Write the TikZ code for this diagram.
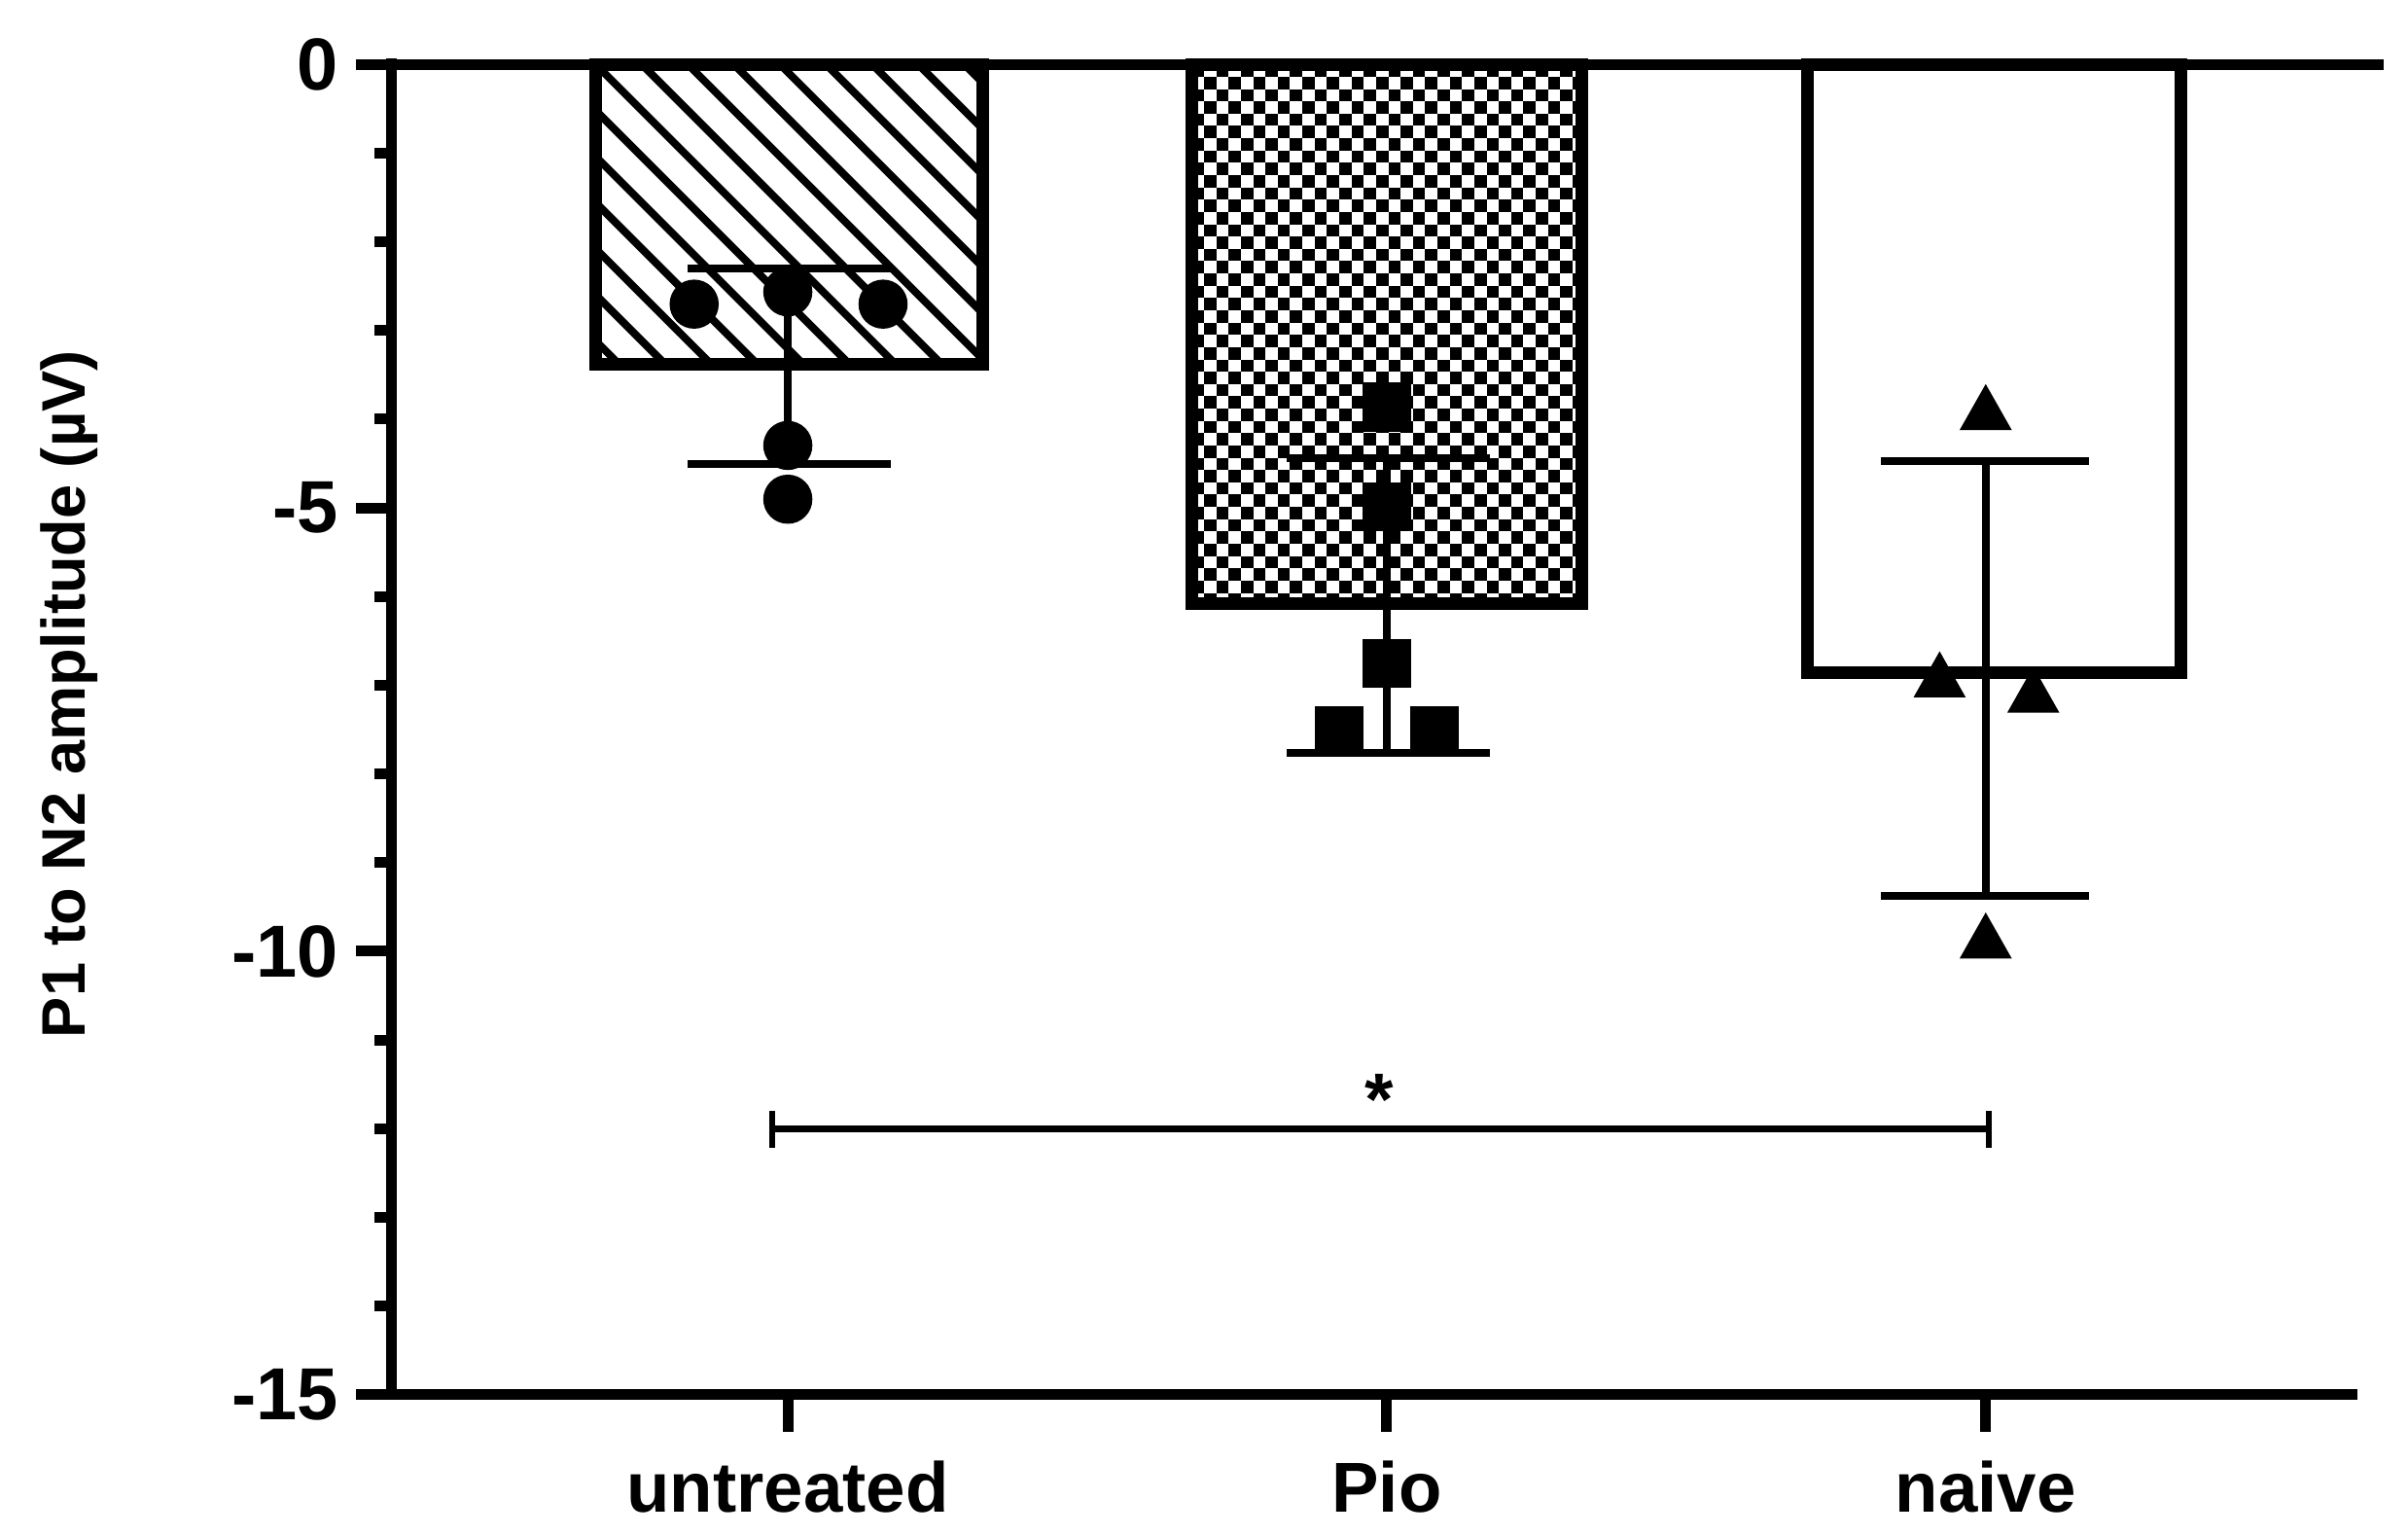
\documentclass[tikz,border=0pt]{standalone}
\usepackage{fontspec}
\setmainfont{Liberation Sans}
\begin{document}
\begin{tikzpicture}[x=1pt,y=-1pt,
  ax/.style={line width=7pt},
  barbox/.style={line width=8pt},
  eb/.style={line width=5pt},
  tl/.style={font=\bfseries\fontsize{48}{50}\selectfont,anchor=east},
  xl/.style={font=\bfseries\fontsize{46}{50}\selectfont},
  dot/.style={fill=black}]
\useasboundingbox (0,0) rectangle (1568,999);
% untreated bar hatching
\begin{scope}
\clip (388,42) rectangle (640,237);
\foreach \i in {-300,-270,...,300}{\draw[line width=5pt] (388+\i,42) -- ++(260,260);}
\end{scope}
\draw[barbox] (388,42) rectangle (640,237);
% Pio checker
\begin{scope}
\clip (776,42) rectangle (1030,393);
\foreach \i in {0,...,32}{\foreach \j in {0,...,44}{
 \pgfmathparse{int(mod(\i+\j,2))}
 \ifnum\pgfmathresult=0 \fill (776+8*\i,42+8*\j) rectangle ++(8,8);\fi}}
\end{scope}
\draw[barbox] (776,42) rectangle (1030,393);
\draw[barbox] (1177,42) rectangle (1420,438);
% error bars
\draw[eb] (513,175) -- (513,302) (448,175) -- (580,175) (448,302) -- (580,302);
\draw[eb] (903,298) -- (903,490) (838,298) -- (970,298) (838,490) -- (970,490);
\draw[eb] (1293,300) -- (1293,583) (1225,300) -- (1360,300) (1225,583) -- (1360,583);
% points
\foreach \p in {(452,198),(513,190),(575,198),(513,290),(513,325)} \fill \p circle (16);
\foreach \p in {(903,265),(903,330),(903,432),(872,476),(934,476)} \fill \p ++(-16,-16) rectangle ++(32,32);
\foreach \p in {(1293,268),(1263,442),(1324,452),(1293,612)} \fill \p ++(0,-18) -- ++(17,30) -- ++(-34,0) -- cycle;
% axes
\draw[ax] (255,42) -- (1552,42);
\draw[ax] (255,38) -- (255,908) -- (1535,908);
\foreach \v in {1,2,3,4,6,7,8,9,11,12,13,14} \draw[ax] (244,42+57.73*\v) -- (255,42+57.73*\v);
\foreach \v/\t in {0/0,5/-5,10/-10,15/-15}{\draw[ax] (232,42+57.73*\v) -- (255,42+57.73*\v);
  \node[tl] (t\v) at (224,42+57.73*\v) {\t};}
\foreach \x/\t/\n in {513/untreated/a,903/Pio/b,1293/naive/c}{\draw[ax] (\x,908) -- (\x,932);
  \node[xl] (\n) at (\x,968) {\t};}
\node[font=\bfseries\fontsize{40}{44}\selectfont,rotate=90] (yl) at (45,452) {P1 to N2 amplitude (µV)};
% significance
\draw[line width=4pt] (503,735) -- (1295,735) (503,723) -- (503,747) (1295,723) -- (1295,747);
\node[font=\bfseries\fontsize{48}{50}\selectfont] (st) at (898,716) {*};
\end{tikzpicture}
\end{document}
